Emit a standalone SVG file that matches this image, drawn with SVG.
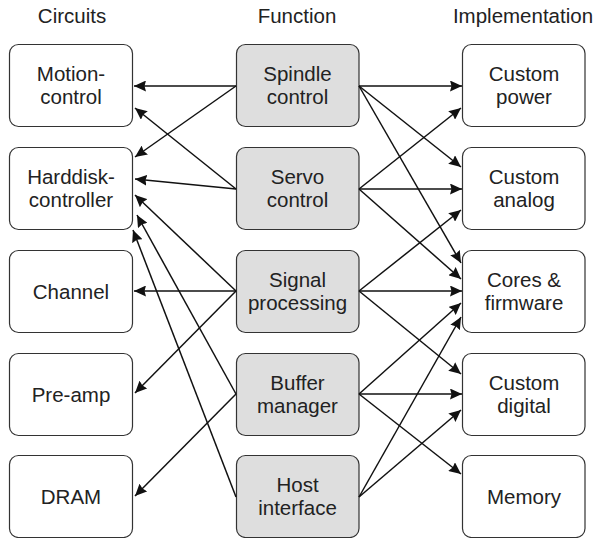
<svg xmlns="http://www.w3.org/2000/svg" width="597" height="538" viewBox="0 0 597 538">
<style>
  text { font-family: "Liberation Sans", Arial, sans-serif; font-size: 20.5px; fill: #222; text-anchor: middle; }
  .box { fill: #fff; stroke: #333; stroke-width: 1.2; }
  .fn { fill: #dedede; stroke: #333; stroke-width: 1.2; }
  .c line { stroke: #111; stroke-width: 1.5; marker-end: url(#ah); }
</style>
<defs>
  <marker id="ah" markerUnits="userSpaceOnUse" markerWidth="12" markerHeight="11" refX="12" refY="5.5" orient="auto">
    <path d="M0,0 L12,5.5 L0,11 L1.5,5.5 z" fill="#111"/>
  </marker>
</defs>
<rect width="597" height="538" fill="#fff"/>
<g id="titles">
  <text x="72" y="23">Circuits</text>
  <text x="297" y="23">Function</text>
  <text x="523" y="23">Implementation</text>
</g>
<g id="motion"><rect class="box" x="9.5" y="44.5" width="123" height="82" rx="9"/><text x="71" y="81">Motion-</text><text x="71" y="104">control</text></g>
<g id="harddisk"><rect class="box" x="9.5" y="147.5" width="123" height="82" rx="9"/><text x="71" y="184">Harddisk-</text><text x="71" y="207">controller</text></g>
<g id="channel"><rect class="box" x="9.5" y="250.5" width="123" height="82" rx="9"/><text x="71" y="298.5">Channel</text></g>
<g id="preamp"><rect class="box" x="9.5" y="353.5" width="123" height="82" rx="9"/><text x="71" y="401.5">Pre-amp</text></g>
<g id="dram"><rect class="box" x="9.5" y="455.5" width="123" height="82" rx="9"/><text x="71" y="503.5">DRAM</text></g>

<g id="spindle"><rect class="fn" x="236.5" y="44.5" width="122.5" height="82" rx="9"/><text x="297.5" y="81">Spindle</text><text x="297.5" y="104">control</text></g>
<g id="servo"><rect class="fn" x="236.5" y="147.5" width="122.5" height="82" rx="9"/><text x="297.5" y="184">Servo</text><text x="297.5" y="207">control</text></g>
<g id="signal"><rect class="fn" x="236.5" y="250.5" width="122.5" height="82" rx="9"/><text x="297.5" y="287">Signal</text><text x="297.5" y="310">processing</text></g>
<g id="buffer"><rect class="fn" x="236.5" y="353.5" width="122.5" height="82" rx="9"/><text x="297.5" y="390">Buffer</text><text x="297.5" y="413">manager</text></g>
<g id="host"><rect class="fn" x="236.5" y="455.5" width="122.5" height="82" rx="9"/><text x="297.5" y="492">Host</text><text x="297.5" y="515">interface</text></g>

<g id="power"><rect class="box" x="462.5" y="44.5" width="122.5" height="82" rx="9"/><text x="524" y="81">Custom</text><text x="524" y="104">power</text></g>
<g id="analog"><rect class="box" x="462.5" y="147.5" width="122.5" height="82" rx="9"/><text x="524" y="184">Custom</text><text x="524" y="207">analog</text></g>
<g id="cores"><rect class="box" x="462.5" y="250.5" width="122.5" height="82" rx="9"/><text x="524" y="287">Cores &amp;</text><text x="524" y="310">firmware</text></g>
<g id="digital"><rect class="box" x="462.5" y="353.5" width="122.5" height="82" rx="9"/><text x="524" y="390">Custom</text><text x="524" y="413">digital</text></g>
<g id="memory"><rect class="box" x="462.5" y="455.5" width="122.5" height="82" rx="9"/><text x="524" y="503.5">Memory</text></g>

<g id="connectors" class="c">
  <line x1="236" y1="86" x2="134" y2="86"/>
  <line x1="236" y1="86" x2="135" y2="157"/>
  <line x1="236" y1="189" x2="135" y2="108"/>
  <line x1="236" y1="189" x2="135" y2="179"/>
  <line x1="236" y1="291" x2="135" y2="195"/>
  <line x1="236" y1="291" x2="134" y2="291"/>
  <line x1="236" y1="291" x2="135" y2="393"/>
  <line x1="236" y1="394" x2="137" y2="215"/>
  <line x1="236" y1="394" x2="135" y2="496"/>
  <line x1="236" y1="497" x2="133" y2="230"/>

  <line x1="359" y1="86" x2="462" y2="86"/>
  <line x1="359" y1="86" x2="461" y2="167"/>
  <line x1="359" y1="86" x2="461" y2="263"/>
  <line x1="359" y1="189" x2="461" y2="108"/>
  <line x1="359" y1="189" x2="462" y2="189"/>
  <line x1="359" y1="189" x2="461" y2="279"/>
  <line x1="359" y1="291" x2="461" y2="210"/>
  <line x1="359" y1="291" x2="462" y2="291"/>
  <line x1="359" y1="291" x2="461" y2="374"/>
  <line x1="359" y1="394" x2="461" y2="303"/>
  <line x1="359" y1="394" x2="462" y2="394"/>
  <line x1="359" y1="394" x2="461" y2="474"/>
  <line x1="359" y1="497" x2="461" y2="317"/>
  <line x1="359" y1="497" x2="461" y2="410"/>
</g>
</svg>
